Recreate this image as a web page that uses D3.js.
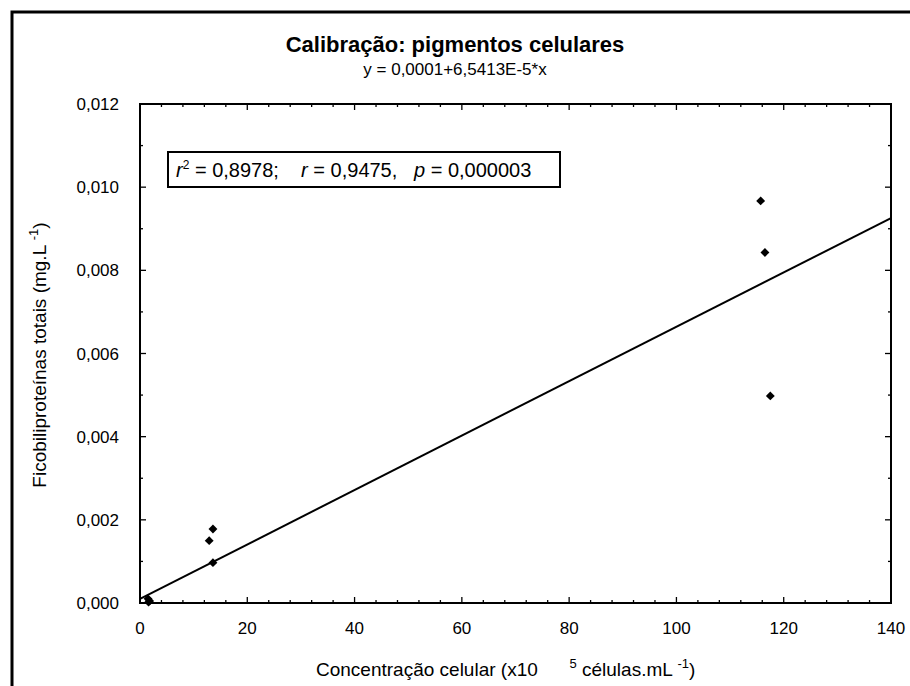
<!DOCTYPE html>
<html>
<head>
<meta charset="utf-8">
<script src="https://cdn.jsdelivr.net/npm/d3@7"></script>
<style>
  body { margin: 0; background: #fff; }
  svg { font-family: "Liberation Sans", Arial, sans-serif; }
</style>
</head>
<body>
<svg width="910" height="686"></svg>
<script>
// measured points (x = 10^5 cells/mL, y = mg/L)
var cellConc = [1.5, 1.8, 1.6, 12.9, 13.6, 13.6, 115.7, 116.5, 117.5];
var phyco = [0.0001, 0.00005, 0.00002, 0.0015, 0.00178, 0.00097, 0.00967, 0.00843, 0.00498];

// regression y = a + b*x
var fitCoef = [0.0001, 6.5413e-5];
var xTicks = [0, 20, 40, 60, 80, 100, 120, 140];
var yTicks = [0, 0.002, 0.004, 0.006, 0.008, 0.010, 0.012];

var svg = d3.select("svg");

var plotL = 140, plotR = 891, plotT = 104, plotB = 603;

var x = d3.scaleLinear().domain([0, 140]).range([plotL, plotR]);
var y = d3.scaleLinear().domain([0, 0.012]).range([plotB, plotT]);

// outer frame (runs off the right and bottom)
svg.append("rect")
    .attr("x", 12).attr("y", 12)
    .attr("width", 920).attr("height", 700)
    .attr("fill", "none").attr("stroke", "#000").attr("stroke-width", 3);

var comma = function (v) { return d3.format(".3f")(v).replace(".", ","); };

// minor ticks
var xMinor = d3.range(0, 141, 4).filter(v => v % 20 !== 0);
var yMinor = d3.range(0.001, 0.012, 0.002);

var ticks = svg.append("g").attr("stroke", "#000").attr("stroke-width", 1.3);

xTicks.forEach(function (v) {
    ticks.append("line").attr("x1", x(v)).attr("x2", x(v)).attr("y1", plotB).attr("y2", plotB - 6);
    ticks.append("line").attr("x1", x(v)).attr("x2", x(v)).attr("y1", plotT).attr("y2", plotT + 6);
});
xMinor.forEach(function (v) {
    ticks.append("line").attr("x1", x(v)).attr("x2", x(v)).attr("y1", plotB).attr("y2", plotB - 3);
    ticks.append("line").attr("x1", x(v)).attr("x2", x(v)).attr("y1", plotT).attr("y2", plotT + 3);
});
yTicks.forEach(function (v) {
    ticks.append("line").attr("x1", plotL).attr("x2", plotL + 6).attr("y1", y(v)).attr("y2", y(v));
    ticks.append("line").attr("x1", plotR).attr("x2", plotR - 6).attr("y1", y(v)).attr("y2", y(v));
});
yMinor.forEach(function (v) {
    ticks.append("line").attr("x1", plotL).attr("x2", plotL + 3).attr("y1", y(v)).attr("y2", y(v));
    ticks.append("line").attr("x1", plotR).attr("x2", plotR - 3).attr("y1", y(v)).attr("y2", y(v));
});

// plot box
svg.append("rect")
    .attr("x", plotL).attr("y", plotT)
    .attr("width", plotR - plotL).attr("height", plotB - plotT)
    .attr("fill", "none").attr("stroke", "#000").attr("stroke-width", 2);

// tick labels
svg.selectAll(".xlab")
    .data(xTicks)
    .enter().append("text")
    .attr("class", "xlab")
    .attr("x", d => x(d))
    .attr("y", 634)
    .attr("text-anchor", "middle")
    .attr("font-size", 17)
    .text(d => d);

svg.selectAll(".ylab")
    .data(yTicks)
    .enter().append("text")
    .attr("class", "ylab")
    .attr("x", 119)
    .attr("y", d => y(d) + 6)
    .attr("text-anchor", "end")
    .attr("font-size", 17)
    .text(d => comma(d));

// fit line
var fitLine = d3.line()
    .x(d => x(d))
    .y(d => y(fitCoef[0] + fitCoef[1] * d));

svg.append("path")
    .datum([0, 140])
    .attr("d", fitLine)
    .attr("fill", "none")
    .attr("stroke", "#000")
    .attr("stroke-width", 2);

// points
var diamond = d3.symbol().type(d3.symbolDiamond2).size(50);
svg.selectAll(".pt")
    .data(cellConc)
    .enter().append("path")
    .attr("class", "pt")
    .attr("transform", (d, i) => "translate(" + x(d) + "," + y(phyco[i]) + ")")
    .attr("d", diamond)
    .attr("fill", "#000");

// titles
svg.append("text")
    .attr("x", 455).attr("y", 52)
    .attr("text-anchor", "middle")
    .attr("font-size", 22).attr("font-weight", "bold")
    .text("Calibração: pigmentos celulares");

svg.append("text")
    .attr("x", 455).attr("y", 75)
    .attr("text-anchor", "middle")
    .attr("font-size", 17)
    .text("y = 0,0001+6,5413E-5*x");

// stats box
svg.append("rect")
    .attr("x", 168).attr("y", 152)
    .attr("width", 392).attr("height", 35)
    .attr("fill", "#fff").attr("stroke", "#000").attr("stroke-width", 2);

var stats = svg.append("text")
    .attr("x", 176).attr("y", 177)
    .attr("font-size", 20)
    .attr("xml:space", "preserve");
stats.append("tspan").attr("font-style", "italic").text("r");
stats.append("tspan").attr("font-size", 12).attr("dy", -8).text("2");
stats.append("tspan").attr("dy", 8).text(" = 0,8978;    ");
stats.append("tspan").attr("font-style", "italic").text("r");
stats.append("tspan").text(" = 0,9475,   ");
stats.append("tspan").attr("font-style", "italic").text("p");
stats.append("tspan").text(" = 0,000003");

// axis titles
var xt = svg.append("text")
    .attr("x", 316).attr("y", 676)
    .attr("font-size", 19)
    .attr("xml:space", "preserve");
xt.append("tspan").text("Concentração celular (x10      ");
xt.append("tspan").attr("font-size", 13).attr("dy", -8).text("5");
xt.append("tspan").attr("dy", 8).text(" células.mL ");
xt.append("tspan").attr("font-size", 13).attr("dy", -8).text("-1");
xt.append("tspan").attr("dy", 8).text(")");

var yt = svg.append("text")
    .attr("transform", "translate(46,355) rotate(-90)")
    .attr("text-anchor", "middle")
    .attr("font-size", 19)
    .attr("xml:space", "preserve");
yt.append("tspan").text("Ficobiliproteínas totais (mg.L ");
yt.append("tspan").attr("font-size", 13).attr("dy", -8).text("-1");
yt.append("tspan").attr("dy", 8).text(")");
</script>
</body>
</html>
